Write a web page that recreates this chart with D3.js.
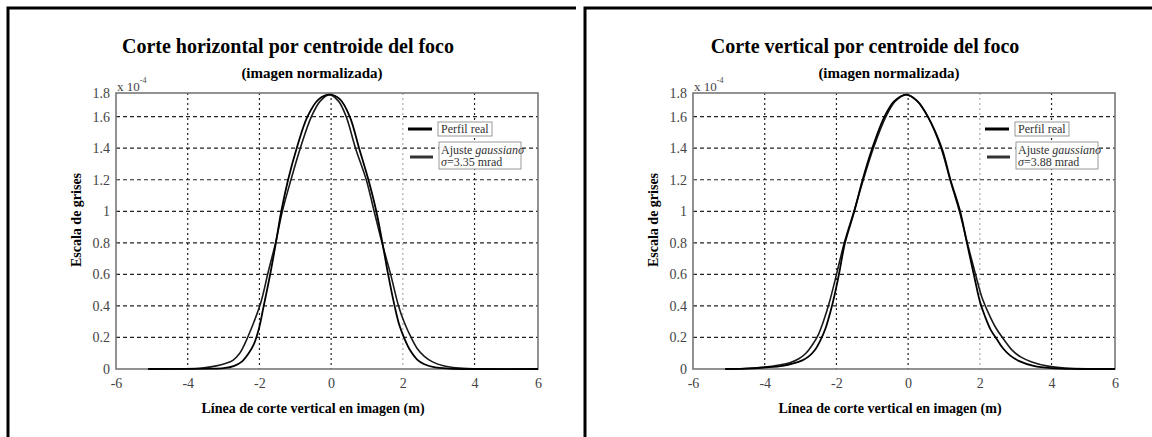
<!DOCTYPE html>
<html>
<head>
<meta charset="utf-8">
<script src="https://cdn.jsdelivr.net/npm/d3@7"></script>
<style>
    body { margin: 0; background: #fff; }
    text { font-family: "Liberation Serif", "Times New Roman", serif; }
</style>
</head>
<body>
<svg id="chart" width="1152" height="437"></svg>
<script>
const xTicks = [-6, -4, -2, 0, 2, 4, 6];
const yTicks = [0, 0.2, 0.4, 0.6, 0.8, 1, 1.2, 1.4, 1.6, 1.8];
const titles = ['Corte horizontal por centroide del foco', 'Corte vertical por centroide del foco'];
const subtitle = '(imagen normalizada)';
const xLabel = 'Línea de corte vertical en imagen (m)';
const yLabel = 'Escala de grises';
const legendReal = 'Perfil  real';
const legendFit = 'Ajuste ';
const sigmas = ['3.35', '3.88'];

// valores en unidades de 1e-4, x en m
const horizReal = [[-5.1,0],[-4.0,0.001],[-3.4,0.002],[-3.0,0.005],[-2.7,0.02],[-2.5,0.045],[-2.3,0.1],[-2.15,0.16],[-2.02,0.25],
    [-1.88,0.4],[-1.70,0.6],[-1.54,0.8],[-1.39,1.0],[-1.20,1.2],[-0.96,1.4],[-0.66,1.6],[-0.35,1.71],[-0.05,1.74],[0.25,1.71],
    [0.52,1.6],[0.78,1.4],[1.04,1.2],[1.26,1.0],[1.43,0.8],[1.59,0.6],[1.77,0.4],[1.9,0.28],[2.05,0.19],[2.2,0.12],[2.4,0.06],
    [2.6,0.03],[2.9,0.01],[3.3,0.003],[3.8,0],[6,0]];
const horizFit = [[-5.1,0],[-4.2,0.001],[-3.6,0.006],[-3.2,0.02],[-2.95,0.035],[-2.74,0.055],[-2.55,0.1],[-2.45,0.14],[-2.33,0.2],
    [-2.15,0.3],[-1.95,0.43],[-1.76,0.61],[-1.55,0.8],[-1.36,1.0],[-1.12,1.2],[-0.86,1.4],[-0.55,1.6],[-0.3,1.7],[-0.05,1.74],
    [0.2,1.7],[0.42,1.6],[0.68,1.4],[0.98,1.2],[1.2,1.0],[1.42,0.8],[1.66,0.6],[1.88,0.4],[2.05,0.29],[2.23,0.2],[2.4,0.13],
    [2.6,0.08],[2.83,0.045],[3.1,0.022],[3.4,0.01],[3.8,0.003],[4.3,0.0005],[6,0]];
const vertReal = [[-5.1,0],[-4.5,0.003],[-4.0,0.01],[-3.5,0.02],[-3.2,0.035],[-2.95,0.055],[-2.77,0.08],[-2.6,0.12],[-2.45,0.18],
    [-2.3,0.26],[-2.17,0.36],[-2.05,0.47],[-1.93,0.6],[-1.76,0.8],[-1.5,1.0],[-1.27,1.2],[-1.0,1.4],[-0.66,1.6],[-0.38,1.7],
    [-0.05,1.74],[0.25,1.7],[0.55,1.6],[0.94,1.4],[1.18,1.2],[1.45,1.0],[1.64,0.8],[1.85,0.58],[2.0,0.43],[2.15,0.33],[2.3,0.25],
    [2.47,0.19],[2.65,0.13],[2.85,0.085],[3.1,0.05],[3.5,0.02],[4.0,0.005],[4.5,0.001],[6,0]];
const vertFit = [[-5.1,0],[-4.6,0.003],[-4.0,0.012],[-3.6,0.025],[-3.3,0.04],[-3.05,0.065],[-2.85,0.1],[-2.65,0.16],[-2.5,0.22],
    [-2.35,0.31],[-2.2,0.42],[-2.03,0.57],[-1.78,0.8],[-1.51,1.0],[-1.25,1.2],[-0.97,1.4],[-0.62,1.6],[-0.35,1.7],[-0.05,1.74],
    [0.25,1.7],[0.55,1.6],[0.92,1.4],[1.17,1.2],[1.43,1.0],[1.65,0.8],[1.88,0.6],[2.05,0.46],[2.25,0.35],[2.45,0.26],[2.66,0.19],
    [2.9,0.12],[3.15,0.075],[3.45,0.045],[3.9,0.018],[4.4,0.006],[5.0,0.001],[6,0]];

const svg = d3.select('#chart');
const box = { left: 116, top: 93, width: 422, height: 276 };

function drawPanel(ox, title, realData, fitData, sigma) {
    const g = svg.append('g').attr('transform', `translate(${ox},0)`);

    // marco del panel
    g.append('path')
        .attr('d', 'M8,437V8H576')
        .attr('fill', 'none')
        .attr('stroke', '#000')
        .attr('stroke-width', 3);

    const xScale = d3.scaleLinear().domain([-6, 5.77]).range([box.left, box.left + box.width]).clamp(true);
    const yScale = d3.scaleLinear().domain([0, 1.75]).range([box.top + box.height, box.top]).clamp(true);

    g.append('text')
        .attr('x', box.left + 172).attr('y', 53)
        .attr('text-anchor', 'middle')
        .style('font-size', '20px').style('font-weight', 'bold')
        .text(title);
    g.append('text')
        .attr('x', box.left + 196).attr('y', 78)
        .attr('text-anchor', 'middle')
        .style('font-size', '15px').style('font-weight', 'bold')
        .text(subtitle);

    // rejilla
    g.append('g')
        .selectAll('line')
        .data(yTicks.filter(d => d > 0 && d < 1.8))
        .join('line')
        .attr('x1', box.left).attr('x2', box.left + box.width)
        .attr('y1', d => yScale(d)).attr('y2', d => yScale(d))
        .attr('stroke', '#222').attr('stroke-width', 1.2)
        .attr('stroke-dasharray', '4,3');
    g.append('g')
        .selectAll('line')
        .data(xTicks.filter(d => d > -6 && d < 6))
        .join('line')
        .attr('x1', d => xScale(d)).attr('x2', d => xScale(d))
        .attr('y1', box.top).attr('y2', box.top + box.height)
        .attr('stroke', d => d === 2 ? '#aaa' : '#222').attr('stroke-width', 1.2)
        .attr('stroke-dasharray', '2,3');

    g.append('rect')
        .attr('x', box.left).attr('y', box.top)
        .attr('width', box.width).attr('height', box.height)
        .attr('fill', 'none').attr('stroke', '#777').attr('stroke-width', 1.6);

    const xAxis = d3.axisBottom(xScale).tickValues(xTicks).tickSize(0).tickPadding(9).tickFormat(d => d);
    const yAxis = d3.axisLeft(yScale).tickValues(yTicks).tickSize(0).tickPadding(6).tickFormat(d => d);

    const gx = g.append('g')
        .attr('transform', `translate(0,${box.top + box.height})`)
        .call(xAxis);
    const gy = g.append('g')
        .attr('transform', `translate(${box.left},0)`)
        .call(yAxis);
    [gx, gy].forEach(a => {
        a.attr('font-family', null);
        a.select('.domain').remove();
        a.selectAll('text')
            .style('font-size', '14px')
            .style('font-family', '"Liberation Serif", serif')
            .attr('fill', '#444');
    });

    const exp = g.append('text')
        .attr('x', box.left + 1).attr('y', 91)
        .style('font-size', '13px').attr('fill', '#444');
    exp.append('tspan').text('x 10');
    exp.append('tspan').attr('dy', -8).style('font-size', '8px').text('-4');

    g.append('text')
        .attr('transform', `translate(${box.left - 35},${box.top + 127}) rotate(-90)`)
        .attr('text-anchor', 'middle')
        .style('font-size', '14px').style('font-weight', 'bold')
        .text(yLabel);
    g.append('text')
        .attr('x', box.left + 197).attr('y', 413)
        .attr('text-anchor', 'middle')
        .style('font-size', '14px').style('font-weight', 'bold')
        .text(xLabel);

    const line = d3.line()
        .x(d => xScale(d[0]))
        .y(d => yScale(d[1]))
        .curve(d3.curveCatmullRom.alpha(0.5));

    g.append('path')
        .datum(fitData)
        .attr('d', line)
        .attr('fill', 'none')
        .attr('stroke', '#1a1a1a')
        .attr('stroke-width', 1.6);
    g.append('path')
        .datum(realData)
        .attr('d', line)
        .attr('fill', 'none')
        .attr('stroke', '#000')
        .attr('stroke-width', 1.8);

    // leyenda
    const lg = g.append('g').attr('transform', `translate(${box.left},${box.top})`);
    lg.append('line')
        .attr('x1', 292).attr('x2', 316).attr('y1', 36).attr('y2', 36)
        .attr('stroke', '#000').attr('stroke-width', 3);
    lg.append('rect')
        .attr('x', 322).attr('y', 29).attr('width', 54).attr('height', 14)
        .attr('fill', '#fff').attr('stroke', '#999');
    lg.append('text')
        .attr('x', 325).attr('y', 40)
        .style('font-size', '12px').attr('fill', '#333')
        .text(legendReal);

    lg.append('line')
        .attr('x1', 294).attr('x2', 317).attr('y1', 64).attr('y2', 64)
        .attr('stroke', '#333').attr('stroke-width', 3);
    lg.append('rect')
        .attr('x', 323).attr('y', 49).attr('width', 82).attr('height', 27)
        .attr('fill', '#fff').attr('stroke', '#999');
    const t1 = lg.append('text')
        .attr('x', 325).attr('y', 61)
        .style('font-size', '12px').attr('fill', '#333');
    t1.append('tspan').text(legendFit);
    t1.append('tspan').style('font-style', 'italic').text('gaussiano');
    const t2 = lg.append('text')
        .attr('x', 325).attr('y', 73)
        .style('font-size', '12px').attr('fill', '#333');
    t2.append('tspan').style('font-style', 'italic').text('σ');
    t2.append('tspan').text(`=${sigma} mrad`);
}

drawPanel(0, titles[0], horizReal, horizFit, sigmas[0]);
drawPanel(577, titles[1], vertReal, vertFit, sigmas[1]);
</script>
</body>
</html>
